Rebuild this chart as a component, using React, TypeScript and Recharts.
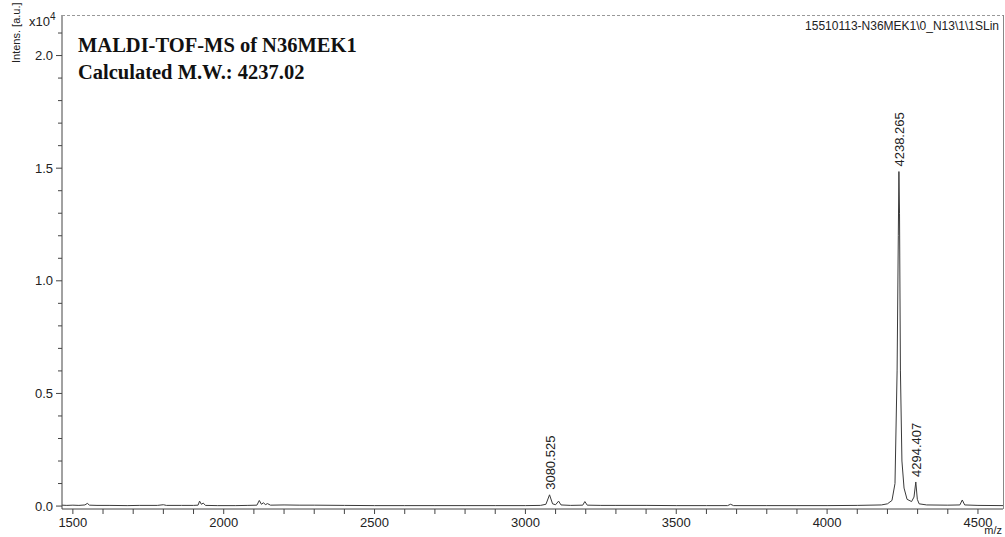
import React from 'react';
import { LineChart, Line, XAxis, YAxis, ReferenceDot } from 'recharts';

const mzValues = [
  1464, 1480, 1500, 1520, 1540, 1548, 1555, 1580, 1620, 1680, 1720, 1780, 1800, 1810, 1860, 1900, 1915, 1920, 1926, 1932, 1940,
  1980, 2040, 2080, 2110, 2118, 2125, 2132, 2138, 2145, 2155, 2200, 2250, 2300, 2400, 2500, 2600, 2700, 2800, 2900, 3000,
  3050, 3068, 3080, 3090, 3100, 3110, 3118, 3150, 3190, 3197, 3205, 3250, 3300, 3400, 3500, 3600, 3670, 3680, 3690, 3800,
  3900, 4000, 4100, 4180, 4200, 4215, 4225, 4232, 4236, 4238, 4240, 4243, 4248, 4255, 4265, 4280, 4288, 4294, 4299, 4305,
  4330, 4400, 4440, 4448, 4456, 4500, 4583,
];
const intensityValues = [
  0.004, 0.003, 0.004, 0.003, 0.005, 0.012, 0.004, 0.003, 0.003, 0.002, 0.003, 0.003, 0.006, 0.003, 0.003, 0.003, 0.004, 0.022, 0.008, 0.013, 0.003,
  0.002, 0.002, 0.003, 0.004, 0.025, 0.008, 0.015, 0.006, 0.011, 0.004, 0.005, 0.004, 0.004, 0.003, 0.002, 0.002, 0.002, 0.002, 0.002, 0.002,
  0.003, 0.008, 0.05, 0.01, 0.006, 0.022, 0.005, 0.003, 0.004, 0.02, 0.004, 0.003, 0.003, 0.003, 0.002, 0.002, 0.002, 0.008, 0.002, 0.002,
  0.002, 0.002, 0.003, 0.005, 0.01, 0.025, 0.1, 0.6, 1.2, 1.485, 1.3, 0.6, 0.2, 0.08, 0.03, 0.02, 0.04, 0.107, 0.03, 0.01,
  0.005, 0.004, 0.005, 0.027, 0.005, 0.003, 0.002,
];

const peakLabels = ['3080.525', '4238.265', '4294.407'];
const peakMz = [3080, 4238, 4294];
const peakIntensity = [0.05, 1.485, 0.107];

const xTicks = [1500, 1600, 1700, 1800, 1900, 2000, 2100, 2200, 2300, 2400, 2500, 2600, 2700, 2800, 2900, 3000, 3100, 3200, 3300, 3400, 3500, 3600, 3700, 3800, 3900, 4000, 4100, 4200, 4300, 4400, 4500];
const xLabelTicks = [1500, 2000, 2500, 3000, 3500, 4000, 4500];
const yTicks = [0, 0.1, 0.2, 0.3, 0.4, 0.5, 0.6, 0.7, 0.8, 0.9, 1.0, 1.1, 1.2, 1.3, 1.4, 1.5, 1.6, 1.7, 1.8, 1.9, 2.0, 2.1];
const yLabelTicks = [0, 0.5, 1.0, 1.5, 2.0];

const title1 = 'MALDI-TOF-MS of N36MEK1';
const title2 = 'Calculated M.W.: 4237.02';
const fileLabel = '15510113-N36MEK1\\0_N13\\1\\1SLin';

const data = mzValues.map((mz, i) => ({ mz, v: intensityValues[i] }));

const FONT = 'Liberation Sans, Arial, sans-serif';
const SERIF = 'Liberation Serif, Times New Roman, serif';

const XTick = (props: any) => {
  const { x, y, payload } = props;
  const v = payload.value;
  const labeled = xLabelTicks.includes(v);
  return (
    <g>
      <line x1={x} x2={x} y1={y} y2={y + 5} stroke="#444" strokeWidth={1} />
      {labeled && (
        <text x={x} y={y + 18} textAnchor="middle" fontSize={13} fontFamily={FONT} fill="#222">
          {v}
        </text>
      )}
    </g>
  );
};

const YTick = (props: any) => {
  const { x, y, payload } = props;
  const v = payload.value;
  const labeled = yLabelTicks.some((t) => Math.abs(t - v) < 1e-6);
  return (
    <g>
      <line x1={x - (labeled ? 6 : 4)} x2={x} y1={y} y2={y} stroke="#444" strokeWidth={1} />
      {labeled && (
        <text x={x - 9} y={y + 4.5} textAnchor="end" fontSize={13} fontFamily={FONT} fill="#222">
          {v.toFixed(1)}
        </text>
      )}
    </g>
  );
};

const PeakLabel = (text: string) => (props: any) => {
  const { viewBox } = props;
  const cx = viewBox.x + (viewBox.width || 0) / 2;
  const cy = viewBox.y + (viewBox.height || 0) / 2;
  const ty = cy - 5;
  return (
    <text
      x={cx + 5}
      y={ty}
      transform={`rotate(-90 ${cx + 5} ${ty})`}
      textAnchor="start"
      fontSize={13}
      fontFamily={FONT}
      fill="#222"
    >
      {text}
    </text>
  );
};

export default function App() {
  return (
    <div style={{ position: 'absolute', left: 0, top: 0, width: 1005, height: 537, background: '#fff' }}>
      <LineChart width={1005} height={537} data={data} margin={{ top: 15, right: 2, left: 0, bottom: 0 }}>
        <XAxis
          dataKey="mz"
          type="number"
          domain={[1464, 4583]}
          ticks={xTicks}
          interval={0}
          tick={<XTick />}
          tickSize={0}
          tickMargin={0}
          height={28}
          stroke="#444"
          allowDataOverflow
        />
        <YAxis
          type="number"
          domain={[-0.013, 2.18]}
          ticks={yTicks}
          interval={0}
          tick={<YTick />}
          tickSize={0}
          tickMargin={0}
          width={62}
          stroke="#444"
          allowDataOverflow
        />
        <Line type="linear" dataKey="v" stroke="#3a3a3a" strokeWidth={1} dot={false} isAnimationActive={false} />
        {peakLabels.map((lab, i) => (
          <ReferenceDot key={lab} x={peakMz[i]} y={peakIntensity[i]} r={0} stroke="none" fill="none" label={PeakLabel(lab)} />
        ))}
      </LineChart>
      <svg width={1005} height={537} style={{ position: 'absolute', left: 0, top: 0, pointerEvents: 'none' }}>
        <line x1={62} x2={1003} y1={15.5} y2={15.5} stroke="#999" strokeWidth={1} strokeDasharray="3 2" />
        <line x1={1003.5} x2={1003.5} y1={15} y2={509} stroke="#888" strokeWidth={1} />
        <text x={78} y={52} fontFamily={SERIF} fontWeight="bold" fontSize={20.5} fill="#111">
          {title1}
        </text>
        <text x={78} y={79} fontFamily={SERIF} fontWeight="bold" fontSize={20.5} fill="#111">
          {title2}
        </text>
        <text x={999} y={30} textAnchor="end" fontFamily={FONT} fontSize={12} fill="#222">
          {fileLabel}
        </text>
        <text x={29} y={26} fontFamily={FONT} fontSize={13} fill="#222">
          x10<tspan dy={-6} fontSize={10}>4</tspan>
        </text>
        <text x={20} y={63} transform="rotate(-90 20 63)" fontFamily={FONT} fontSize={11} fill="#222">
          Intens. [a.u.]
        </text>
        <text x={1002} y={534} textAnchor="end" fontFamily={FONT} fontSize={11} fill="#222">
          m/z
        </text>
      </svg>
    </div>
  );
}
